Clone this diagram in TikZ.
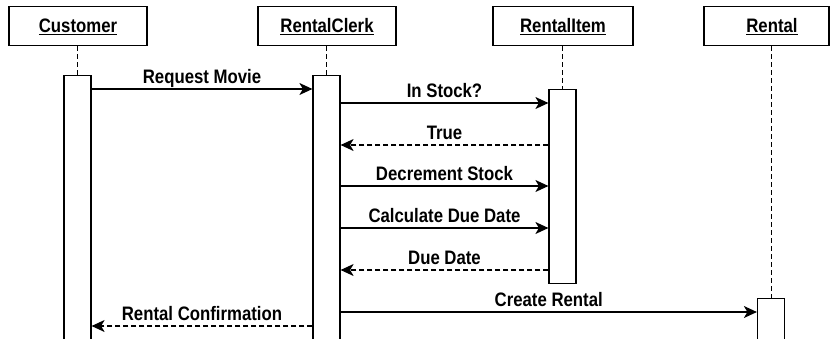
\documentclass[tikz,border=0pt]{standalone}
\usepackage{fontspec}
\setmainfont{Liberation Sans}[FakeStretch=0.86]
\usetikzlibrary{arrows.meta}

\tikzset{
	head/.style={draw, line width=1.2pt, minimum width=138pt, minimum height=39pt,
		text height=13pt, text depth=0pt, inner sep=0pt},
	act/.style={draw, line width=1.2pt, fill=white, minimum width=27pt, inner sep=0pt, anchor=north},
	life/.style={line width=1pt, dash pattern=on 5pt off 3pt},
	msg/.style={line width=1.1pt, -{Stealth[length=13pt,width=12pt,inset=3.5pt]}},
	ret/.style={dash pattern=on 5pt off 3pt},
	lbl/.style={anchor=base, yshift=6pt, inner sep=0pt}
}

\begin{document}
\begin{tikzpicture}[x=1pt, y=-1pt, font=\fontsize{19.5}{22}\selectfont\bfseries]
	\useasboundingbox (0,0) rectangle (831,338);
	% heads
	\node[head] (customer) at (78,26) {\underline{Customer}};
	\node[head] (clerk) at (327,26) {\underline{RentalClerk}};
	\node[head, minimum width=140pt] (item) at (563,26) {\underline{RentalItem}};
	\node[head, minimum width=125pt] (rental) at (766.5,26) {\hspace*{11pt}\underline{Rental}};
	% activations
	\node[act, minimum height=280pt] (customerAct) at (77.5,75) {};
	\node[act, minimum height=280pt] (clerkAct) at (326.5,75) {};
	\node[act, minimum height=194pt] (itemAct) at (562.5,89) {};
	\node[act, minimum height=60pt] (rentalAct) at (771,298) {};
	% lifelines
	\draw[life] (customerAct.north |- customer.south) -- (customerAct.north);
	\draw[life] (clerkAct.north |- clerk.south) -- (clerkAct.north);
	\draw[life] (itemAct.north |- item.south) -- (itemAct.north);
	\draw[life] (rentalAct.north |- rental.south) -- (rentalAct.north);
	% messages
	\path[msg]
	(customerAct.east |- 0,89) edge node[lbl] {Request Movie} (clerkAct.west |- 0,89)
	(clerkAct.east |- 0,103) edge node[lbl] {In Stock?} (itemAct.west |- 0,103)
	(itemAct.west |- 0,145) edge [ret] node[lbl] {True} (clerkAct.east |- 0,145)
	(clerkAct.east |- 0,186) edge node[lbl] {Decrement Stock} (itemAct.west |- 0,186)
	(clerkAct.east |- 0,228) edge node[lbl] {Calculate Due Date} (itemAct.west |- 0,228)
	(itemAct.west |- 0,270) edge [ret] node[lbl] {Due Date} (clerkAct.east |- 0,270)
	(clerkAct.east |- 0,312) edge node[lbl] {Create Rental} (rentalAct.west |- 0,312)
	(clerkAct.west |- 0,326) edge [ret] node[lbl] {Rental Confirmation} (customerAct.east |- 0,326);
\end{tikzpicture}
\end{document}
